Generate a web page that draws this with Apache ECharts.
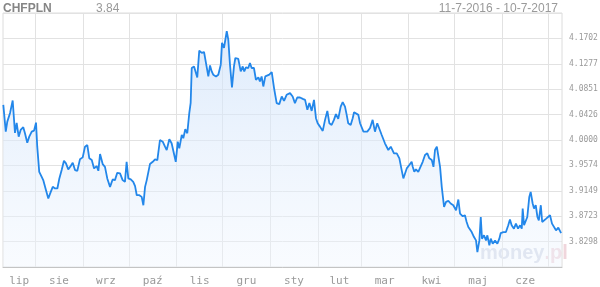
<!DOCTYPE html>
<html><head><meta charset="utf-8">
<script src="https://cdn.jsdelivr.net/npm/echarts@6/dist/echarts.min.js"></script>
<style>html,body{margin:0;padding:0;background:#fff}#c{width:600px;height:287px}</style>
</head><body><div id="c"></div>
<script>
const symbolName = 'CHFPLN';
const lastValue = '3.84';
const rangeText = '11-7-2016 - 10-7-2017';
const monthLabels = ['lip','sie','wrz','paź','lis','gru','sty','lut','mar','kwi','maj','cze'];

// days since 2016-07-11
const dayOffsets = [
0.2,1.8,2.8,4.6,6.3,7.8,8.9,10.2,11.5,13.2,14.3,15.8,17.1,18.7,20.2,21.5,22.3,23.6,25.2,26.2,
28.0,29.5,31.1,32.4,33.9,35.4,36.7,38.2,39.7,41.0,42.5,44.1,45.4,46.9,48.4,50.1,51.9,53.4,54.9,56.2,
57.8,59.3,61.0,62.1,63.2,64.9,66.4,67.9,69.7,71.4,72.9,74.4,76.2,77.9,79.4,80.5,81.6,83.2,84.8,86.0,
87.1,88.8,90.3,91.4,92.5,93.6,94.6,95.7,97.5,99.0,100.5,102.2,104.0,105.5,106.6,108.3,109.8,110.9,112.5,113.8,
114.8,116.4,117.4,118.7,120.0,121.3,122.2,122.9,124.4,125.7,126.5,127.8,129.4,130.9,132.2,133.7,134.8,135.9,136.9,138.7,
140.2,141.8,142.6,143.9,145.7,146.7,147.8,149.1,150.4,151.3,153.2,154.8,156.1,157.1,158.2,159.7,160.8,161.9,163.4,164.7,
166.3,167.3,168.4,169.5,170.8,172.1,173.4,175.0,176.5,178.2,179.9,181.5,183.0,184.7,186.9,188.6,190.1,191.6,193.4,195.2,
196.7,198.2,199.5,201.0,202.5,203.8,204.9,206.4,208.2,209.7,211.2,212.5,214.0,215.5,216.8,218.3,219.9,221.2,222.7,223.8,
224.8,226.4,227.7,228.6,229.9,231.4,232.5,233.6,234.7,235.7,237.2,239.0,240.7,242.2,243.7,245.0,246.6,247.6,248.7,249.8,
250.9,252.5,253.8,254.6,256.4,258.1,259.6,260.7,261.8,262.9,264.6,266.1,266.8,267.8,268.9,270.4,271.5,273.3,274.8,276.3,
277.6,279.2,280.3,281.3,282.5,283.5,284.6,285.7,287.2,288.5,290.0,291.5,293.2,295.0,296.5,297.6,299.4,300.8,301.9,303.0,
304.1,305.2,306.7,308.0,308.9,310.2,311.1,311.9,313.2,314.5,315.4,316.7,317.6,318.9,320.4,321.9,323.2,324.1,325.8,327.5,
329.0,330.1,331.2,332.7,334.0,335.4,336.7,337.8,338.4,339.3,340.6,341.4,342.7,343.6,344.9,345.8,346.9,348.0,348.9,350.2,
351.1,352.4,353.7,354.9,356.2,357.5,358.8,360.1,361.6,363.4
];
const rates = [
4.0589,4.0140,4.0308,4.0454,4.0661,4.0118,4.0286,4.0056,4.0169,4.0214,4.0113,3.9955,4.0056,4.0140,4.0157,4.0291,3.9888,3.9467,3.9383,3.9328,
3.9159,3.9020,3.9131,3.9215,3.9188,3.9188,3.9356,3.9496,3.9652,3.9608,3.9508,3.9563,3.9619,3.9496,3.9484,3.9676,3.9709,3.9888,3.9916,3.9693,
3.9664,3.9524,3.9563,3.9484,3.9765,3.9597,3.9551,3.9356,3.9215,3.9339,3.9328,3.9450,3.9440,3.9328,3.9299,3.9635,3.9356,3.9339,3.9299,3.9227,
3.9075,3.9075,3.9047,3.8907,3.9215,3.9328,3.9328,3.9597,3.9635,3.9676,3.9664,4.0000,3.9972,3.9888,3.9832,4.0012,3.9945,3.9972,3.9635,3.9972,
3.9861,4.0084,4.0030,4.0180,4.0113,4.0449,4.0623,4.1206,4.1233,4.1233,4.1048,4.1497,4.1459,4.1475,4.1485,4.1065,4.1250,4.1149,4.1094,4.1065,
4.1094,4.1262,4.1627,4.1543,4.1822,4.1682,4.1262,4.0880,4.1233,4.1374,4.1358,4.1149,4.1233,4.1149,4.1216,4.1206,4.1290,4.1206,4.1206,4.1009,
4.1048,4.0981,4.1065,4.0897,4.1065,4.1038,4.1094,4.1139,4.0870,4.0618,4.0601,4.0729,4.0656,4.0757,4.0786,4.0729,4.0618,4.0712,4.0712,4.0690,
4.0673,4.0505,4.0618,4.0488,4.0673,4.0365,4.0281,4.0224,4.0152,4.0337,4.0488,4.0281,4.0253,4.0337,4.0433,4.0354,4.0560,4.0634,4.0560,4.0421,
4.0281,4.0253,4.0365,4.0466,4.0488,4.0421,4.0281,4.0308,4.0140,4.0113,4.0140,4.0202,4.0337,4.0140,4.0281,4.0253,4.0084,4.0084,3.9945,3.9945,
3.9832,3.9888,3.9916,3.9777,3.9777,3.9693,3.9496,3.9356,3.9356,3.9524,3.9580,3.9635,3.9551,3.9467,3.9508,3.9467,3.9467,3.9635,3.9748,3.9777,
3.9693,3.9664,3.9551,3.9832,3.9888,3.9916,3.9551,3.9215,3.8879,3.8963,3.8979,3.8936,3.8907,3.8823,3.9003,3.8768,3.8722,3.8739,3.8626,3.8542,
3.8515,3.8458,3.8374,3.8318,3.8122,3.8318,3.8710,3.8347,3.8403,3.8318,3.8403,3.8234,3.8347,3.8263,3.8318,3.8263,3.8347,3.8441,3.8458,3.8458,
3.8571,3.8667,3.8571,3.8515,3.8599,3.8515,3.8571,3.8515,3.8852,3.8571,3.8599,3.8710,3.9047,3.9131,3.8936,3.8852,3.8907,3.8710,3.8655,3.8907,
3.8626,3.8599,3.8683,3.8655,3.8739,3.8599,3.8599,3.8487,3.8532,3.8441
];

const DAY = 86400000;
const startTs = new Date(2016, 6, 11).getTime();
const endTs = new Date(2017, 6, 10).getTime();
const seriesData = dayOffsets.map((d, i) => [startTs + d * DAY, rates[i]]);

// month boundaries and label centres
const monthStarts = [];
for (let m = 7; m <= 18; m++) monthStarts.push(new Date(2016, m, 1).getTime());
const labelPos = [];
for (let m = 6; m <= 17; m++) {
  const a = Math.max(startTs, new Date(2016, m, 1).getTime());
  const b = Math.min(endTs, new Date(2016, m + 1, 1).getTime());
  labelPos.push((a + b) / 2);
}

const yStep = 2 / 47;
const yMin = 89 * yStep;
const yMax = 99 * yStep;

const chart = echarts.init(document.getElementById('c'), null, {renderer: 'canvas'});
chart.setOption({
  animation: false,
  backgroundColor: '#fff',
  grid: {left: 3, right: 38, top: 13, bottom: 20, show: true, borderColor: '#dcdcdc', borderWidth: 1,
         containLabel: false, outerBoundsMode: 'none'},
  graphic: [
    {type: 'text', left: 3, top: 3, z: 10, style: {text: symbolName, fill: '#858585', font: 'bold 12px "Liberation Sans", Arial, sans-serif'}},
    {type: 'text', left: 96, top: 3, z: 10, style: {text: lastValue, fill: '#9a9a9a', font: '12px "Liberation Sans", Arial, sans-serif'}},
    {type: 'text', right: 42, top: 3, z: 10, style: {text: rangeText, fill: '#9a9a9a', font: '12px "Liberation Sans", Arial, sans-serif'}},
    {type: 'text', left: 480, top: 243, z: 0, style: {
      text: '{a|money}{b|.pl}',
      rich: {
        a: {fill: '#d6dbe8', font: 'bold 20px "Liberation Sans", Arial, sans-serif'},
        b: {fill: '#f0d6dc', font: 'bold 20px "Liberation Sans", Arial, sans-serif'}
      }
    }}
  ],
  xAxis: {
    type: 'value', min: startTs, max: endTs, scale: true,
    axisLine: {show: true, lineStyle: {color: '#c4c4c4', width: 1}},
    axisTick: {show: false, customValues: monthStarts},
    splitLine: {show: true, lineStyle: {color: '#e2e2e2', width: 1}},
    axisLabel: {
      customValues: labelPos,
      margin: 9,
      color: '#9a9a9a',
      fontFamily: '"DejaVu Sans Mono", monospace',
      fontSize: 11,
      hideOverlap: false,
      formatter: function (v) {
        const i = labelPos.findIndex(p => Math.abs(p - v) < DAY);
        return i >= 0 ? monthLabels[i] : '';
      }
    }
  },
  yAxis: {
    type: 'value', position: 'right', min: yMin, max: yMax, interval: yStep, scale: true,
    axisLine: {show: false}, axisTick: {show: false},
    splitLine: {show: true, lineStyle: {color: '#e2e2e2', width: 1}},
    axisLabel: {
      margin: 7, color: '#9a9a9a', fontSize: 8,
      fontFamily: '"DejaVu Sans Mono", monospace',
      showMinLabel: false, showMaxLabel: false,
      formatter: v => v.toFixed(4)
    }
  },
  series: [{
    type: 'line', data: seriesData, showSymbol: false, smooth: false, z: 5,
    lineStyle: {color: '#2387ea', width: 1.8},
    areaStyle: {
      origin: 'start',
      color: new echarts.graphic.LinearGradient(0, 0, 0, 1, [
        {offset: 0, color: 'rgba(205,225,250,0.95)'},
        {offset: 1, color: 'rgba(240,246,254,0.6)'}
      ])
    }
  }]
});
</script>
</body></html>
